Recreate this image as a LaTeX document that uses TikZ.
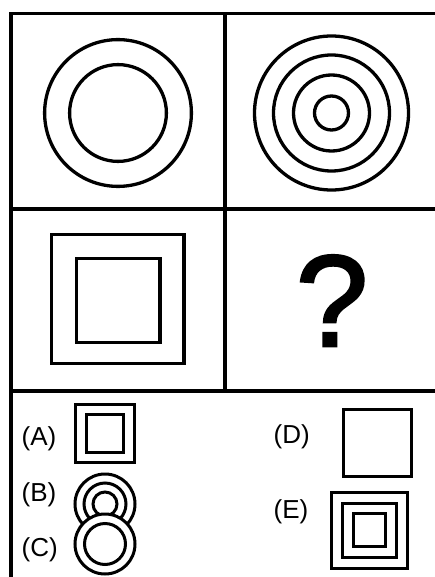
\documentclass[tikz,border=0pt]{standalone}
\usepackage{fontspec}
\setmainfont{Liberation Sans}
\newfontfamily\qmarkfont[FakeBold=2]{Liberation Sans}
\begin{document}
\begin{tikzpicture}[x=1pt,y=-1pt,
  frameline/.style={line width=3.8pt,line cap=rect},
  bigfig/.style={line width=3.3pt},
  smallfig/.style={line width=3pt},
  lbl/.style={inner sep=0pt,anchor=base west,font=\fontsize{26pt}{30pt}\selectfont}]
\useasboundingbox[fill=white] (0,0) rectangle (434,577);
% frame
\draw[frameline] (11,580) -- (11,13.5) -- (440,13.5);
\draw[frameline] (11,208.7) -- (440,208.7);
\draw[frameline] (11,391) -- (440,391);
\draw[frameline] (225,13.5) -- (225,391);
% top-left circles
\draw[bigfig] (118,113) circle[radius=73.4pt];
\draw[bigfig] (118,113) circle[radius=48.4pt];
% top-right circles
\foreach \r in {77,58,38,17} \draw[bigfig] (331.5,113) circle[radius=\r pt];
% middle-left squares
\draw[bigfig] (51.7,234.7) rectangle (184,363.3);
\draw[bigfig] (76.7,258.4) rectangle (160,342.3);
% question mark
\node[inner sep=0pt,anchor=base,font=\qmarkfont\fontsize{130pt}{130pt}\selectfont] (q) at (332,346) {?};
% options
\node[lbl] (la) at (21.5,445.5) {(A)};
\node[lbl] (lb) at (21.5,501.8) {(B)};
\node[lbl] (lc) at (21.5,556) {(C)};
\node[lbl] (ld) at (273.5,443.5) {(D)};
\node[lbl] (le) at (273.5,518.5) {(E)};
% A
\draw[smallfig] (75.5,404) rectangle (134,462.5);
\draw[smallfig] (86,414.5) rectangle (123,452.5);
% B
\foreach \r in {30,21,12} \draw[smallfig] (105,504) circle[radius=\r pt];
% C
\draw[smallfig,fill=white] (105,544) circle[radius=30pt];
\draw[smallfig] (105,544) circle[radius=20.5pt];
% D
\draw[smallfig] (343.8,409.2) rectangle (411.8,476.8);
% E
\draw[smallfig] (331.5,492.5) rectangle (407.5,568.5);
\draw[smallfig] (342.5,503.2) rectangle (396.8,557.5);
\draw[smallfig] (353.8,513.8) rectangle (385.2,546.2);
\end{tikzpicture}
\end{document}
